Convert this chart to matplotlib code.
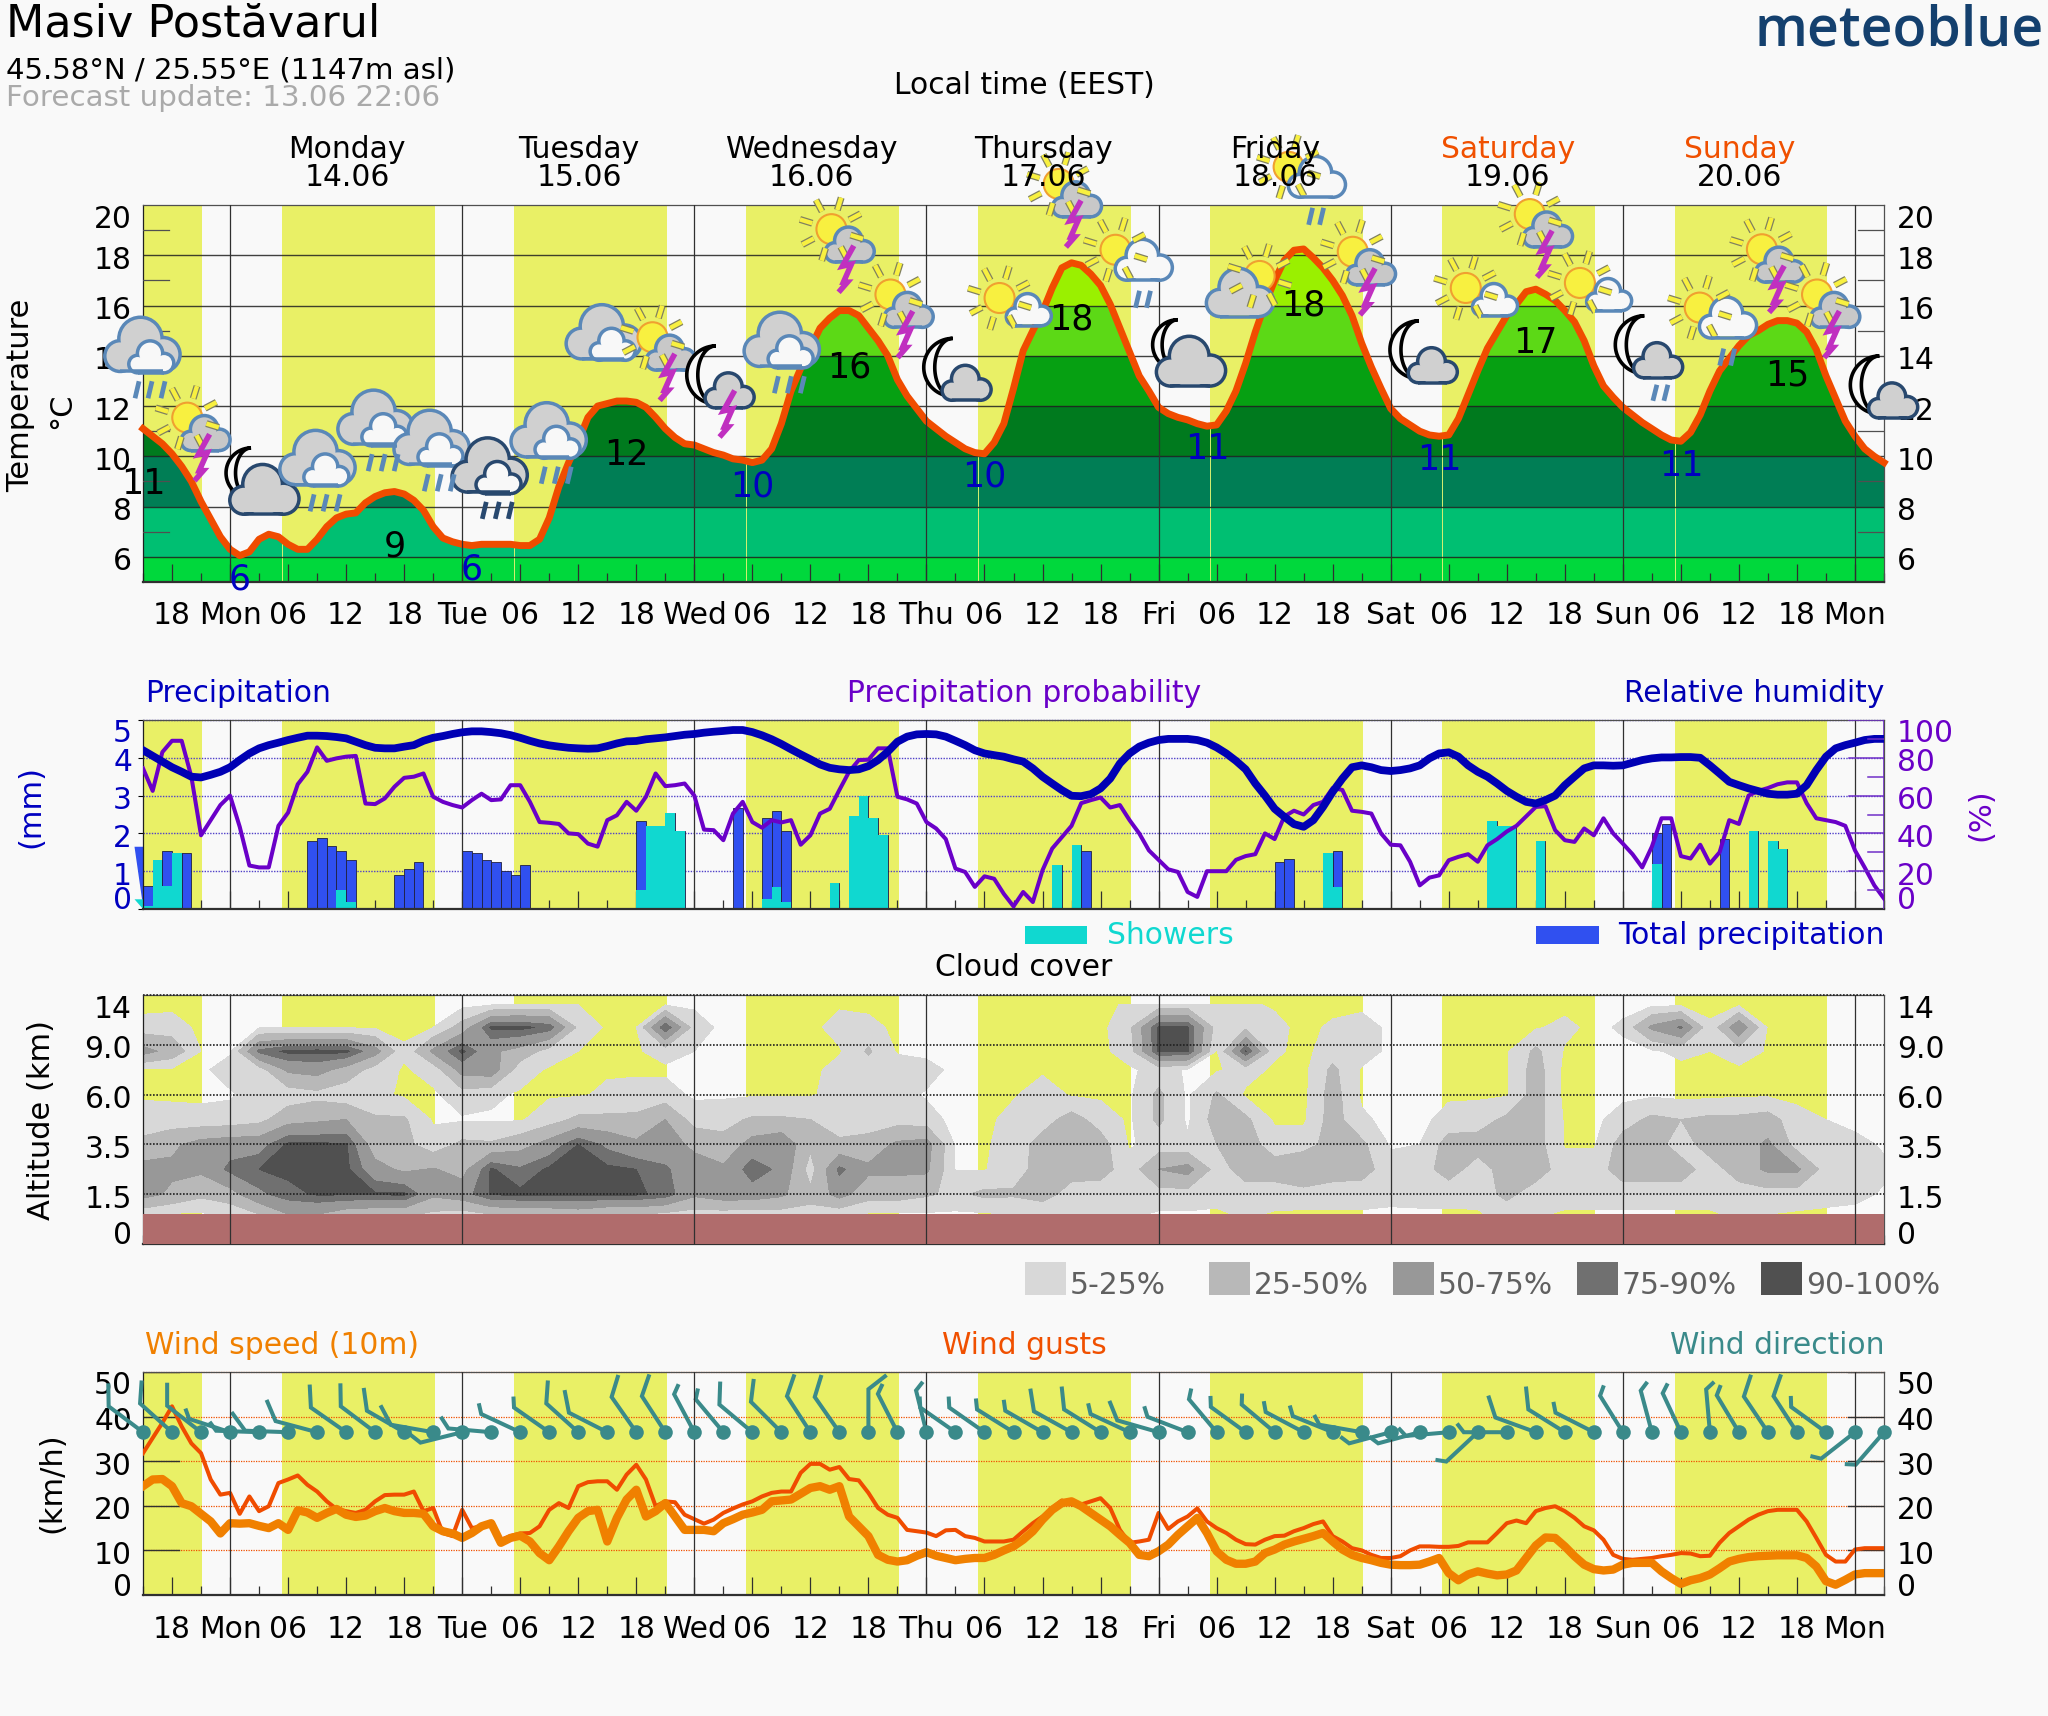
import numpy as np
import matplotlib
matplotlib.use("Agg")
import matplotlib.pyplot as plt
from matplotlib.patches import Circle, Rectangle, Polygon

plt.rcParams["font.family"] = ["DejaVu Sans"]

W, H = 2048, 1716
BG = "#f9f9f9"
YELLOW = "#e9f066"
TEXT_SIZE = 21.4

# hours counted from Monday 00:00
X0, X1 = -9, 171
hours = np.arange(X0, X1 + 1)
hours3 = np.arange(X0, X1 + 1, 3)

# -----------------------------------------------
# temperature
# -----------------------------------------------
temperature = [
    11.1, 10.8, 10.5, 10.1, 9.6, 9.0, 8.2, 7.5, 6.8,
    6.3, 6.05, 6.2, 6.7, 6.9, 6.8, 6.5, 6.3, 6.3, 6.7, 7.2, 7.55, 7.7, 7.75, 8.15, 8.4, 8.55, 8.6, 8.5, 8.25, 7.85, 7.2, 6.75, 6.6,
    6.5, 6.45, 6.5, 6.5, 6.5, 6.5, 6.45, 6.45, 6.7, 7.55, 8.8, 9.75, 10.6, 11.55, 12.0, 12.1, 12.2, 12.2, 12.15, 11.95, 11.55, 11.1, 10.75, 10.5,
    10.45, 10.3, 10.15, 10.05, 9.9, 9.85, 9.75, 9.85, 10.3, 11.3, 12.6, 13.5, 14.3, 15.1, 15.5, 15.8, 15.8, 15.6, 15.1, 14.6, 14.0, 13.05, 12.4, 11.9,
    11.4, 11.1, 10.8, 10.55, 10.3, 10.15, 10.1, 10.55, 11.3, 12.7, 14.2, 15.0, 15.75, 16.7, 17.5, 17.7, 17.6, 17.25, 16.8, 16.05, 15.1, 14.15, 13.2, 12.6,
    11.95, 11.7, 11.55, 11.45, 11.3, 11.2, 11.25, 11.8, 12.6, 13.7, 14.95, 16.05, 17.0, 17.8, 18.2, 18.25, 17.9, 17.5, 17.0, 16.4, 15.6, 14.5, 13.55, 12.7,
    11.9, 11.5, 11.25, 11.0, 10.85, 10.8, 10.85, 11.5, 12.45, 13.4, 14.3, 14.95, 15.6, 16.05, 16.55, 16.65, 16.45, 16.2, 15.8, 15.35, 14.6, 13.6, 12.8, 12.35,
    11.95, 11.65, 11.35, 11.1, 10.85, 10.65, 10.6, 10.95, 11.65, 12.6, 13.4, 13.9, 14.4, 14.8, 15.0, 15.25, 15.4, 15.4, 15.3, 14.95, 14.25, 13.2, 12.3, 11.4,
    10.8, 10.3, 10.0, 9.75,
]
temp_bands = [5, 6, 8, 10, 12, 14, 16, 18, 20]
temp_band_colors = ["#00d83c", "#00bf72", "#007e55", "#007a1e", "#06a012", "#5cd916", "#9af000", "#b4f800"]

label_hours = [-9, 1, 17, 25, 41, 54, 64, 78, 87, 101, 111, 125, 135, 150, 161]
label_temps = [8.9, 5.08, 6.4, 5.5, 10.05, 8.8, 13.55, 9.2, 15.45, 10.3, 16.0, 9.85, 14.5, 9.6, 13.2]
label_texts = ["11", "6", "9", "6", "12", "10", "16", "10", "18", "11", "18", "11", "17", "11", "15"]
label_is_min = [0, 1, 0, 1, 0, 1, 0, 1, 0, 1, 0, 1, 0, 1, 0]

icon_hours = [-9.1, -3.7, 3.1, 9, 15, 20.8, 26.8, 32.9, 38.6, 44.4, 50.9, 57, 62.9, 69, 75.4, 80.8,
              86.4, 93.2, 98.9, 105, 111.1, 116.8, 123.6, 129, 135.1, 140.8, 146.9, 153.6, 159.1, 164.8, 171.2]
icon_temps = [14.3, 11.3, 9.1, 9.8, 11.4, 10.6, 9.5, 10.9, 14.8, 14.5, 13.0, 14.5, 18.8, 16.2, 13.3, 16.1,
              20.6, 17.9, 14.2, 16.7, 21.2, 17.9, 14.0, 16.5, 19.4, 16.7, 14.2, 15.6, 18.0, 16.2, 12.6]
icon_kinds = ["A", "B", "C", "A", "A", "A", "D", "A", "L", "B", "F", "A", "B", "B", "G", "H",
              "B", "I", "C", "J", "I", "B", "G", "H", "B", "H", "K", "I", "B", "B", "G"]

# -----------------------------------------------
# precipitation (bars start at the given hour, one hour wide)
# -----------------------------------------------
rain_hours = [-9, -8, -7, -6, -5, 8, 9, 10, 11, 12, 17, 18, 19, 24, 25, 26, 27, 28, 29, 30,
              42, 43, 44, 45, 46, 52, 55, 56, 57, 62, 64, 65, 66, 67, 85, 87, 88,
              108, 109, 113, 114, 130, 131, 132, 135, 147, 148, 154, 157, 159, 160]
total_mm = [0.6, 1.3, 1.54, 1.47, 1.47, 1.8, 1.88, 1.67, 1.54, 1.3, 0.9, 1.07, 1.24, 1.54, 1.47, 1.3, 1.24, 1.0, 0.9, 1.17,
            2.33, 2.2, 2.2, 2.53, 2.07, 2.66, 2.41, 2.6, 2.07, 0.7, 2.46, 2.99, 2.41, 1.95, 1.17, 1.68, 1.53,
            1.25, 1.31, 1.47, 1.53, 2.33, 2.2, 2.2, 1.8, 2.02, 2.26, 1.86, 2.07, 1.8, 1.6]
showers_mm = [0.09, 1.3, 0.6, 1.47, 0, 0, 0, 0, 0.5, 0.19, 0, 0, 0, 0, 0, 0, 0, 0, 0, 0,
              0.5, 2.2, 2.2, 2.53, 2.07, 0, 0.27, 0.58, 0.19, 0.7, 2.46, 2.99, 2.41, 1.95, 1.17, 1.68, 0,
              0, 0, 1.47, 0.58, 2.33, 2.2, 2.2, 1.8, 1.18, 0, 0, 2.07, 1.8, 1.6]

precip_prob = [
    74.4, 62.5, 83, 89, 89, 70, 39, 47, 55,
    60, 43.5, 23, 22, 22, 44, 51, 66, 72.6, 85.5, 78.4, 79.7, 80.6, 81, 55.8, 55.5, 58.5, 64.7, 69.4, 70, 71.7, 59.4, 56.7, 55,
    53.7, 57.6, 61, 57.6, 58, 65.5, 65.5, 56.7, 46, 45.6, 45, 40, 39.6, 34.6, 33, 47, 49.6, 56.7, 52, 59.4, 71.7, 65, 65.5, 66.4,
    60, 42, 41.7, 36.4, 50.5, 56.7, 46, 43, 47, 45.8, 47, 34, 39, 50.5, 53, 63, 72.6, 78.8, 79, 85, 85, 59.4, 58, 55.8,
    46, 42.6, 37, 21.4, 19.6, 11.7, 17.3, 16, 8, 1.4, 9, 3.7, 20.5, 32, 38, 44, 56, 57.6, 59, 53.7, 55, 47, 40, 31,
    26, 21, 19.6, 9, 6.4, 20, 20, 20, 26, 28, 29, 40, 37, 49, 52, 50, 55, 56.7, 64, 63, 52, 51.4, 50.5, 40,
    34, 33.7, 25, 12.5, 16.6, 17.8, 25.8, 27.6, 29, 25, 33.7, 37, 41, 44, 49, 54, 54.4, 41.7, 36.4, 35.5, 42.6, 39, 48, 40,
    34.6, 29, 22, 33, 48, 48, 28, 26.7, 34, 24, 30, 47, 45, 60, 62.5, 64, 66, 67, 67, 56, 48, 47, 46, 44,
    31, 22, 12.5, 5.5,
]
humidity = [
    84, 81, 78, 75, 72.6, 70, 69.6, 71, 72.6,
    75, 78.8, 82.3, 85, 86.7, 88, 89.4, 90.6, 91.7, 91.7, 91.5, 91, 90.3, 88.5, 86.7, 85.3, 85, 85, 85.9, 86.7, 89, 90.6, 91.5, 92.6,
    93.5, 94, 94, 93.6, 93, 92, 90.6, 89, 87.6, 86.6, 85.9, 85.3, 85, 84.8, 85, 86.2, 87.6, 88.7, 88.9, 89.8, 90.3, 90.8, 91.5, 92.2,
    92.6, 93.3, 93.8, 94.2, 94.7, 94.7, 93.6, 91.9, 89.8, 87.3, 84.5, 81.8, 79.2, 76.5, 74.7, 73.9, 73.5, 73.9, 75.6, 78.8, 83.2, 88.5, 91.2, 92.4,
    92.6, 92.4, 91.2, 89, 86.7, 84, 82.3, 81.4, 80.6, 79.2, 78, 74.4, 70, 66.4, 62.9, 59.9, 59.7, 60.8, 63.8, 69, 77, 82.3, 85.9, 88,
    89.4, 90, 90, 90, 89.4, 88, 85.5, 82.3, 78.4, 73.9, 66.4, 60, 53, 48.8, 44.9, 43.5, 47, 54, 62, 69, 75, 76, 75, 73.5,
    73, 73.5, 74.4, 76, 79.7, 82.3, 82.9, 80.6, 76, 72.6, 70, 66.4, 62.5, 59.4, 56.7, 55.8, 57.6, 60, 65.5, 70, 74.4, 76, 76, 75.8,
    76, 77.4, 78.8, 79.7, 80.2, 80.2, 80.4, 80.4, 80, 76, 71.7, 67.3, 65.5, 63.8, 62.4, 61, 60.5, 60.5, 61, 65.5, 73.5, 80.6, 85, 86.7,
    88, 89.4, 90, 90,
]

# -----------------------------------------------
# cloud cover, one list per 3 hour column, rows from low to high altitude
# -----------------------------------------------
cloud_rows = [0.6, 1.0, 1.5, 2.0, 2.5, 3.0, 3.5, 3.87, 4.35, 4.8]
altitude_ticks = [0, 1, 2, 3, 4, 5]
altitude_labels = ["0", "1.5", "3.5", "6.0", "9.0", "14"]
cloud_cols = [
    [10, 60, 60, 30, 15, 2, 2, 60, 12, 0],
    [3, 45, 55, 45, 12, 2, 2, 40, 15, 0],
    [3, 30, 55, 60, 10, 2, 2, 5, 0, 0],
    [8, 40, 80, 65, 12, 3, 12, 3, 0, 0],
    [25, 70, 90, 65, 18, 12, 15, 80, 3, 0],
    [50, 85, 94, 93, 40, 12, 55, 94, 3, 0],
    [50, 92, 94, 93, 45, 18, 60, 95, 3, 0],
    [35, 92, 94, 92, 50, 10, 40, 94, 3, 0],
    [30, 92, 60, 35, 28, 10, 15, 60, 3, 0],
    [30, 93, 45, 32, 28, 2, 3, 8, 0, 0],
    [20, 55, 52, 12, 3, 2, 12, 55, 5, 0],
    [15, 65, 40, 30, 3, 15, 60, 94, 35, 0],
    [25, 92, 92, 28, 3, 8, 65, 55, 93, 5],
    [30, 94, 78, 40, 3, 3, 12, 40, 95, 8],
    [30, 94, 93, 60, 15, 3, 3, 15, 85, 10],
    [35, 94, 94, 90, 30, 3, 3, 5, 20, 5],
    [25, 94, 94, 70, 30, 8, 3, 3, 2, 0],
    [25, 93, 90, 55, 30, 12, 2, 3, 5, 2],
    [20, 85, 78, 60, 50, 12, 2, 12, 90, 5],
    [15, 55, 60, 45, 15, 2, 2, 5, 15, 2],
    [15, 65, 55, 32, 18, 2, 0, 0, 0, 0],
    [12, 65, 85, 60, 28, 3, 0, 0, 0, 0],
    [15, 55, 70, 70, 28, 3, 0, 0, 0, 0],
    [20, 30, 15, 30, 25, 3, 0, 0, 0, 0],
    [10, 60, 80, 30, 12, 12, 12, 3, 12, 3],
    [3, 35, 55, 35, 12, 15, 15, 28, 12, 0],
    [3, 35, 55, 55, 15, 12, 15, 3, 0, 0],
    [3, 28, 55, 60, 12, 3, 12, 0, 0, 0],
    [2, 20, 4, 3, 0, 0, 0, 0, 0, 0],
    [3, 30, 4, 3, 0, 0, 0, 0, 0, 0],
    [5, 28, 15, 12, 12, 3, 0, 0, 0, 0],
    [8, 35, 35, 35, 15, 15, 2, 0, 0, 0],
    [8, 15, 35, 35, 35, 3, 0, 0, 0, 0],
    [8, 12, 35, 35, 15, 2, 0, 0, 0, 0],
    [8, 15, 12, 3, 2, 2, 2, 15, 20, 8],
    [3, 15, 50, 12, 30, 30, 12, 92, 92, 12],
    [3, 15, 60, 8, 2, 2, 3, 92, 92, 12],
    [2, 12, 15, 25, 35, 28, 3, 3, 15, 8],
    [8, 15, 35, 35, 30, 2, 12, 92, 20, 8],
    [3, 15, 35, 15, 2, 2, 2, 8, 10, 3],
    [2, 15, 50, 15, 2, 0, 0, 0, 0, 0],
    [2, 15, 35, 35, 35, 35, 30, 15, 8, 0],
    [3, 12, 35, 30, 8, 2, 3, 15, 15, 0],
    [2, 10, 12, 3, 0, 0, 0, 0, 0, 0],
    [2, 12, 15, 5, 0, 0, 0, 0, 0, 0],
    [2, 12, 35, 35, 12, 2, 0, 0, 0, 0],
    [2, 15, 15, 35, 15, 2, 0, 0, 0, 0],
    [15, 30, 35, 35, 30, 3, 3, 3, 0, 0],
    [8, 15, 35, 35, 35, 35, 35, 30, 3, 0],
    [2, 15, 15, 3, 3, 0, 0, 3, 10, 0],
    [2, 15, 15, 3, 0, 0, 0, 0, 0, 0],
    [2, 15, 35, 35, 15, 0, 0, 0, 8, 0],
    [2, 15, 35, 35, 30, 2, 2, 2, 55, 2],
    [2, 15, 35, 15, 25, 0, 0, 10, 78, 2],
    [3, 12, 15, 35, 30, 0, 0, 5, 8, 0],
    [8, 15, 35, 35, 30, 2, 2, 15, 70, 3],
    [5, 15, 55, 55, 35, 2, 0, 3, 3, 0],
    [3, 15, 55, 15, 12, 0, 0, 0, 0, 0],
    [0, 15, 15, 15, 5, 0, 0, 0, 0, 0],
    [0, 10, 15, 10, 0, 0, 0, 0, 0, 0],
    [0, 3, 8, 3, 0, 0, 0, 0, 0, 0],
]
cloud_levels = [5, 25, 50, 75, 90, 101]
cloud_colors = ["#d8d8d8", "#b8b8b8", "#989898", "#707070", "#505050"]
cloud_legend = ["5-25%", "25-50%", "50-75%", "75-90%", "90-100%"]

# -----------------------------------------------
# wind
# -----------------------------------------------
wind_speed = [
    24.4, 25.9, 26, 24.4, 20.6, 19.9, 18.2, 16.5, 13.8,
    16.1, 16, 16.1, 15.5, 15, 16.1, 14.6, 19, 18.5, 17.3, 18.4, 19.3, 18, 17.5, 17.8, 18.8, 19.5, 18.8, 18.4, 18.4, 18.2, 15.4, 14.3, 13.8,
    12.8, 13.9, 15.4, 16.1, 11.7, 12.8, 13.3, 12, 9.4, 7.8, 10.9, 14.3, 17.3, 18.8, 19.1, 12, 17.3, 21.4, 23.6, 17.6, 18.8, 20.6, 17.6, 14.6,
    14.6, 14.6, 14.3, 16.1, 17, 18, 18.5, 19.1, 21, 21.2, 21.4, 22.7, 24, 24.4, 23.6, 24.4, 17.6, 15.4, 13.2, 9, 7.9, 7.5, 7.8, 8.8,
    9.6, 8.8, 8.3, 7.8, 8.1, 8.3, 8.3, 9, 10, 10.9, 12.4, 14.3, 16.9, 19.1, 20.6, 21, 19.9, 18.4, 16.9, 15.4, 13.5, 11.7, 9, 8.7,
    9.8, 11.3, 13.5, 15.4, 17.3, 13.9, 9.8, 7.9, 7, 7, 7.5, 9.4, 10.2, 11.3, 12, 12.6, 13.2, 13.9, 12, 10.2, 9, 8.3, 7.8, 7.2,
    6.8, 6.7, 6.7, 6.8, 7.5, 8.3, 4.9, 3.3, 4.6, 5.3, 4.8, 4.4, 4.6, 5.5, 8.3, 11.1, 12.9, 12.8, 10.9, 8.7, 6.8, 5.8, 5.5, 5.7,
    6.8, 7.2, 7.2, 7.2, 5.3, 3.8, 2.5, 3.3, 3.8, 4.6, 6, 7.5, 8.1, 8.5, 8.7, 8.8, 8.9, 8.9, 8.9, 8.3, 6.4, 3.1, 2.3, 3.4,
    4.6, 4.9, 4.9, 4.9,
]
wind_gusts = [
    31.8, 35.2, 38.6, 42.3, 37.8, 34, 31.8, 25.9, 22.5,
    22.9, 18.2, 22.1, 18.8, 19.9, 25.1, 25.9, 26.8, 24.7, 23.2, 21, 19.3, 18.8, 18.4, 19.1, 21, 22.4, 22.5, 22.5, 23.2, 18.8, 19.5, 13.9, 13.2,
    19.1, 15, 15.4, 15.8, 12.4, 13.2, 13.8, 13.9, 15.4, 19.1, 20.6, 19.5, 24.4, 25.3, 25.5, 25.5, 23.6, 27, 29.2, 25.9, 19.9, 21, 20.8, 18,
    17, 16, 16.9, 18.4, 19.4, 20.3, 21, 22.1, 22.9, 23.2, 23.2, 27.4, 29.4, 29.4, 28.1, 28.7, 26, 25.7, 22.9, 19.5, 18, 17.3, 14.6, 14.3,
    14, 13.2, 14.5, 14.6, 13.2, 12.8, 12, 12, 12, 12.4, 14.3, 16.1, 17.6, 19.5, 21.2, 20.3, 20.3, 21, 21.7, 19.5, 14.6, 11.7, 12, 12.4,
    18.4, 14.8, 16.5, 17.6, 19.4, 16.5, 15, 13.9, 12.4, 11.4, 11.3, 12.4, 13.2, 13.3, 14.3, 15, 15.9, 16.5, 13.2, 12, 10.5, 10, 9, 8.3,
    8.3, 8.7, 10, 10.9, 10.9, 10.8, 10.8, 11, 11.8, 11.8, 11.8, 13.9, 16.1, 16.7, 16.1, 18.8, 19.5, 19.9, 18.8, 17.3, 15.4, 14.5, 12.4, 9,
    8.1, 7.9, 8.1, 8.3, 8.7, 9, 9.4, 9.3, 8.7, 8.8, 11.7, 13.9, 15.4, 16.9, 18, 18.8, 19.1, 19.1, 19.1, 16.5, 12.8, 9, 7.5, 7.5,
    10.2, 10.5, 10.5, 10.5,
]
# direction of the shaft on the picture, degrees from up, and feather length in pixels
wind_dir = [-53, -48, -52, -72, -88, -88, -75, -55, -53, -60, -80, -104, -85, -65, -55, -48, -63, -35, -33, -28, -40,
            -50, -45, -33, -35, 0, -27, -14, -55, -55, -58, -60, -61, -58, -65, -74, -69, -40, -54, -50, -62, -68, -80,
            -105, -105, -95, -133, -90, -70, -58, -63, -32, -15, -25, -5, -31, -34, -33, -54, -128, -139]
wind_feather = [21, 21, 21, 9, 9, 21, 21, 21, 21, 21, 20, 20, 12, 9, 9, 21, 21, 21, 21, 9, 9,
                21, 21, 21, 21, 21, 9, 9, 9, 9, 9, 9, 21, 21, 9, 19, 9, 9, 9, 9, 9, 9, 9,
                9, 9, 9, 9, 9, 21, 21, 9, 9, 9, 9, 9, 9, 21, 21, 9, 9, 9]

day_names = ["Monday", "Tuesday", "Wednesday", "Thursday", "Friday", "Saturday", "Sunday"]
day_dates = ["14.06", "15.06", "16.06", "17.06", "18.06", "19.06", "20.06"]
day_colors = ["black", "black", "black", "black", "black", "#f05000", "#f05000"]
short_days = ["Mon", "Tue", "Wed", "Thu", "Fri", "Sat", "Sun", "Mon"]

SUNRISE, SUNSET = 5.35, 21.15

fig = plt.figure(figsize=(W / 100, H / 100), dpi=100, facecolor=BG)


def text_args(size, **kw):
    return dict(fontsize=size, family="DejaVu Sans", **kw)


def make_axes(top, bottom):
    ax = fig.add_axes([143 / W, 1 - bottom / H, (1884 - 143) / W, (bottom - top) / H], facecolor=BG)
    ax.set_xlim(X0, X1)
    ax.axvspan(X0, SUNSET - 24, color=YELLOW, lw=0, zorder=0)
    for d in range(7):
        ax.axvspan(SUNRISE + 24 * d, SUNSET + 24 * d, color=YELLOW, lw=0, zorder=0)
    for d in range(8):
        ax.axvline(24 * d, color="#303030", lw=0.9, zorder=6)
    ax.set_xticks(np.arange(-6, X1 + 1, 6))
    ax.set_xticks(hours3, minor=True)
    ax.tick_params(axis="x", which="major", direction="in", length=13, width=0.9, color="#303030", labelbottom=False)
    ax.tick_params(axis="x", which="minor", direction="in", length=6.5, width=0.9, color="#303030")
    ax.tick_params(axis="y", left=False, labelleft=False)
    for s in ax.spines.values():
        s.set_linewidth(0.9)
        s.set_color("#505050")
    ax.spines["bottom"].set_linewidth(1.6)
    ax.spines["bottom"].set_color("#303030")
    ax.spines["left"].set_color("#202020")
    return ax


def y_labels(ax, vals, labels, side, color="black", shift=None):
    # labels sit a little below their tick, the end ones are pushed inwards
    shift = shift or {}
    for v, lab in zip(vals, labels):
        dy = shift.get(lab, -5)
        if side == "left":
            ax.annotate(lab, xy=(0, v), xycoords=("axes fraction", "data"), xytext=(-11, dy), textcoords="offset pixels",
                        ha="right", va="center", color=color, annotation_clip=False, **text_args(TEXT_SIZE))
        else:
            ax.annotate(lab, xy=(1, v), xycoords=("axes fraction", "data"), xytext=(13, dy), textcoords="offset pixels",
                        ha="left", va="center", color=color, annotation_clip=False, **text_args(TEXT_SIZE))


def x_labels(ax):
    for h in np.arange(-6, X1 + 1, 6):
        if h % 24 == 0:
            lab = short_days[h // 24]
        else:
            lab = "%02d" % (h % 24)
        ax.annotate(lab, xy=(h, 0), xycoords=("data", "axes fraction"), xytext=(0, -34), textcoords="offset pixels",
                    ha="center", va="center", annotation_clip=False, **text_args(TEXT_SIZE))


# -----------------------------------------------
# panel 1: temperature
# -----------------------------------------------
ax1 = make_axes(205, 582)
ax1.set_ylim(5, 20)
area = ax1.fill_between(hours, 5, temperature, color="none", lw=0)
clip = area.get_paths()[0]
for lo, hi, col in zip(temp_bands[:-1], temp_bands[1:], temp_band_colors):
    band = ax1.axhspan(lo, hi, color=col, lw=0, zorder=1)
    band.set_clip_path(clip, transform=ax1.transData)
for d in range(7):
    t = temperature[int(SUNRISE) + 24 * d + 9]
    ax1.plot([SUNRISE + 24 * d] * 2, [5, t], color="#d8f070", lw=0.7, zorder=2)
for v in range(6, 20, 2):
    ax1.axhline(v, color="#202020", lw=1.0, alpha=0.85, zorder=3)
ax1.plot(hours, temperature, color="#f04c00", lw=5.0, zorder=5, solid_joinstyle="round", clip_on=False)
for v in [7, 9, 11, 15, 17, 19]:
    ax1.plot([X0, X0 + 2.7], [v, v], color="#505050", lw=0.9, zorder=4)
    ax1.plot([X1 - 2.7, X1], [v, v], color="#505050", lw=0.9, zorder=4)
temp_ticks = [6, 8, 10, 12, 14, 16, 18, 20]
temp_tick_labels = [str(v) for v in temp_ticks]
y_labels(ax1, temp_ticks, temp_tick_labels, "left", shift={"20": -14})
y_labels(ax1, temp_ticks, temp_tick_labels, "right", shift={"20": -14})
x_labels(ax1)
for h, t, s, is_min in zip(label_hours, label_temps, label_texts, label_is_min):
    ax1.text(h, t, s, color="#0000c0" if is_min else "black", ha="center", va="center", zorder=7, clip_on=False, **text_args(25))

# -----------------------------------------------
# panel 2: precipitation
# -----------------------------------------------
ax2 = make_axes(720, 909)
ax2.set_ylim(0, 5)
for v in [1, 2, 3, 4, 5]:
    ax2.axhline(v, color="#5040c8", lw=1.0, ls=(0, (1, 1)), zorder=1, clip_on=False)
ax2.bar(rain_hours, total_mm, width=1, align="edge", color="#3050f0", edgecolor="#202040", linewidth=0.6, zorder=2)
ax2.bar(rain_hours, showers_mm, width=1, align="edge", color="#10d8d0", lw=0, zorder=2.5)
ax2.fill_between([-9.93, -9], [1.66, 1.66], [1.66, 0], color="#3050f0", lw=0, clip_on=False, zorder=2)
ax2.fill_between([-9.93, -9], [0.27, 0.27], [0.27, 0], color="#10d8d0", lw=0, clip_on=False, zorder=2)
ax2b = ax2.twinx()
ax2b.set_ylim(0, 100)
ax2b.tick_params(axis="y", right=False, labelright=False)
for s in ax2b.spines.values():
    s.set_visible(False)
ax2b.plot(hours, precip_prob, color="#6a00c8", lw=2.9, zorder=4)
ax2b.plot(hours, humidity, color="#0000b4", lw=5.6, zorder=5)
for v in [20, 40, 60, 80, 100]:
    ax2b.plot([X1 - 3.6, X1], [v, v], color="#7030c8", lw=1.1, zorder=6)
for v in [10, 30, 50, 70, 90]:
    ax2b.plot([X1 - 1.7, X1], [v, v], color="#7030c8", lw=1.1, zorder=6)
ax2b.axvline(X1, color="#7030c8", lw=1.2)
y_labels(ax2, [0, 1, 2, 3, 4, 5], ["0", "1", "2", "3", "4", "5"], "left", color="#0000c0", shift={"0": 8, "5": -14})
y_labels(ax2b, [0, 20, 40, 60, 80, 100], ["0", "20", "40", "60", "80", "100"], "right", color="#6a00c8",
         shift={"0": 8, "100": -14})

# -----------------------------------------------
# panel 3: cloud cover
# -----------------------------------------------
ax3 = make_axes(995, 1244)
ax3.set_ylim(0, 5)
cloud = np.array(cloud_cols, dtype=float).T
ax3.contourf(hours3, cloud_rows, cloud, levels=cloud_levels, colors=cloud_colors, zorder=2)
ax3.axhspan(0, 0.6, color="#b06c6c", lw=0, zorder=3)
for v in [1, 2, 3, 4, 5]:
    ax3.axhline(v, color="#202020", lw=1.2, ls=(0, (1, 1)), zorder=5, clip_on=False)
y_labels(ax3, altitude_ticks, altitude_labels, "left", shift={"0": 8, "14": -14})
y_labels(ax3, altitude_ticks, altitude_labels, "right", shift={"0": 8, "14": -14})

# -----------------------------------------------
# panel 4: wind
# -----------------------------------------------
ax4 = make_axes(1372, 1595)
ax4.set_ylim(0, 50)
for v in [10, 20, 30, 40, 50]:
    ax4.axhline(v, color="#f05000", lw=0.9, ls=(0, (1, 1)), zorder=1, clip_on=False)
    ax4.plot([X0, X0 + 3.7], [v, v], color="#303030", lw=1.0, zorder=2)
    ax4.plot([X1 - 3.7, X1], [v, v], color="#303030", lw=1.0, zorder=2)
ax4.plot(hours, wind_gusts, color="#f04c00", lw=2.9, zorder=3)
ax4.plot(hours, wind_speed, color="#f08000", lw=6.0, zorder=4)

WIND_Y = 36.5
px_x = (X1 - X0) / (1884 - 143)
px_y = 50 / (1595 - 1372)
TEAL = "#3a8a8a"
for h, a, fl in zip(hours3, wind_dir, wind_feather):
    ra = np.deg2rad(a)
    rb = np.deg2rad(a + 52)
    x1 = h + 43 * np.sin(ra) * px_x
    y1 = WIND_Y + 43 * np.cos(ra) * px_y
    x2 = x1 + fl * np.sin(rb) * px_x
    y2 = y1 + fl * np.cos(rb) * px_y
    ax4.plot([h, x1, x2], [WIND_Y, y1, y2], color=TEAL, lw=2.9, zorder=5, clip_on=False, solid_joinstyle="miter")
ax4.plot(hours3, [WIND_Y] * len(hours3), "o", color=TEAL, ms=10.5, mew=0, zorder=6, clip_on=False)
wind_ticks = [0, 10, 20, 30, 40, 50]
wind_tick_labels = [str(v) for v in wind_ticks]
y_labels(ax4, wind_ticks, wind_tick_labels, "left", shift={"0": 8, "50": -14})
y_labels(ax4, wind_ticks, wind_tick_labels, "right", shift={"0": 8, "50": -14})
x_labels(ax4)

# -----------------------------------------------
# texts, legends and weather icons in picture pixels
# -----------------------------------------------
ov = fig.add_axes([0, 0, 1, 1], zorder=10)
ov.set_xlim(0, W)
ov.set_ylim(H, 0)
ov.axis("off")
ov.patch.set_alpha(0)


def label(x, y, s, size=TEXT_SIZE, color="black", ha="left", **kw):
    ov.text(x, y, s, color=color, ha=ha, va="center", **text_args(size), **kw)


def wide(x, y, s, color="black", size=22):
    ov.text(x, y, s, color=color, ha="center", va="center", rotation=90, fontsize=size, family="DejaVu Sans")


label(6, 24, "Masiv Postăvarul", size=32)
label(6, 70, "45.58°N / 25.55°E (1147m asl)", size=21)
label(6, 98, "Forecast update: 13.06 22:06", size=21.2, color="#aaaaaa")
ov.text(2044, 32, "meteoblue", color="#14406e", ha="right", va="center", fontsize=40, family="Open Sans", weight="semibold")
label(1024, 86, "Local time (EEST)", ha="center")
for d, (name, date, col) in enumerate(zip(day_names, day_dates, day_colors)):
    x = 231 + (12 + 24 * d) * 9.672
    label(x, 150, name, color=col, ha="center")
    label(x, 178, date, ha="center")
wide(21, 395, "Temperature")
wide(62, 411, "°C")
label(145, 694, "Precipitation", color="#0000c0")
label(1024, 694, "Precipitation probability", color="#6a00c8", ha="center")
label(1884, 694, "Relative humidity", color="#0000b4", ha="right")
wide(31, 806, "(mm)", color="#0000c0")
wide(1981, 815, "(%)", color="#6a00c8")
ov.add_patch(Rectangle((1025, 926), 62, 18, color="#10d8d0", lw=0))
label(1107, 935, "Showers", color="#10d8d0")
ov.add_patch(Rectangle((1536, 926), 63, 18, color="#3050f0", lw=0))
label(1618, 935, "Total precipitation", color="#0000c0")
label(1024, 968, "Cloud cover", ha="center")
wide(42, 1120, "Altitude (km)")
for x0, col, s in zip([1025, 1209, 1393, 1577, 1761], cloud_colors, cloud_legend):
    ov.add_patch(Rectangle((x0, 1262), 41, 33, color=col, lw=0))
    label(x0 + 45, 1286, s, color="#606060")
label(145, 1346, "Wind speed (10m)", color="#f08000")
label(1024, 1346, "Wind gusts", color="#f05000", ha="center")
label(1884, 1346, "Wind direction", color=TEAL, ha="right")
wide(52, 1483, "(km/h)")

BLUE_EDGE = "#5a88b8"
DARK_EDGE = "#28486e"


def cloud_icon(cx, cy, w, fill, edge, lw=3.5):
    lobes = [(-0.28, 0.10, 0.22), (-0.02, -0.12, 0.30), (0.27, 0.08, 0.24)]
    for dx, dy, r in lobes:
        ov.add_patch(Circle((cx + dx * w, cy + dy * w), r * w, fc=edge, lw=0))
    for dx, dy, r in lobes:
        ov.add_patch(Circle((cx + dx * w, cy + dy * w), r * w - lw, fc=fill, lw=0))
    ov.add_patch(Rectangle((cx - 0.28 * w, cy + 0.02 * w), 0.55 * w, 0.24 * w - lw + 0.06 * w, fc=fill, lw=0))
    ov.plot([cx - 0.28 * w, cx + 0.27 * w], [cy + 0.32 * w - lw / 2] * 2, color=edge, lw=lw * 0.72, solid_capstyle="butt")


def sun_icon(cx, cy, r=15):
    for k in range(8):
        a = k * np.pi / 4 + 0.3
        xs = [cx + (r + 5) * np.cos(a), cx + (r + 18) * np.cos(a)]
        ys = [cy + (r + 5) * np.sin(a), cy + (r + 18) * np.sin(a)]
        ov.plot(xs, ys, color="#808060", lw=5.0, solid_capstyle="butt")
        ov.plot(xs, ys, color="#f8f040", lw=3.2, solid_capstyle="butt")
    ov.add_patch(Circle((cx, cy), r, fc="#f8f040", ec="#f0a030", lw=1.5))


def moon_icon(cx, cy, h):
    # crescent between two half ellipses, tips at top and bottom
    t = np.linspace(np.pi / 2, 3 * np.pi / 2, 40)
    r = h / 2
    rx = 0.5 * h
    outer = np.c_[cx + 0.3 * h + rx * np.cos(t), cy - r * np.sin(t)]
    inner = np.c_[cx + 0.3 * h + rx * 0.62 * np.cos(t[::-1]), cy - r * np.sin(t[::-1])]
    ov.add_patch(Polygon(np.r_[outer, inner], closed=True, fc="#f9f9f9", ec="black", lw=2.6))


def rain_icon(xs, y0, y1, color=BLUE_EDGE):
    for x in xs:
        ov.plot([x + 2, x - 2], [y0, y1], color=color, lw=3.4, solid_capstyle="butt")


def bolt_icon(cx, cy, s=1.0):
    pts = np.array([(4, -16), (-6, 2), (3, 0), (-5, 18), (-1, 18), (-8, 26)])
    ov.plot(cx + pts[:, 0] * s, cy + pts[:, 1] * s, color="#c030c0", lw=4.0, solid_joinstyle="miter")


def draw_icon(kind, cx, cy):
    if kind in "ALD":
        edge = DARK_EDGE if kind == "D" else BLUE_EDGE
        cloud_icon(cx, cy, 78, "#d0d0d0", edge)
        cloud_icon(cx + 9, cy + 11, 48, "#f8f8f8", edge)
        if kind != "L":
            rain_icon([cx - 5, cx + 8, cx + 21], cy + 33, cy + 50, edge)
    elif kind == "B":
        sun_icon(cx - 7, cy - 6)
        cloud_icon(cx + 11, cy + 12, 52, "#c8c8c8", BLUE_EDGE)
        bolt_icon(cx + 10, cy + 29)
    elif kind in "CGFK":
        big = kind == "C"
        moon_icon(cx - 24, cy - 6, 50 if big else 58)
        w = 72 if big else 52
        cloud_icon(cx + (4 if big else 7), cy + (14 if big else 12), w, "#d0d0d0", DARK_EDGE)
        if kind == "F":
            bolt_icon(cx + 7, cy + 28)
        if kind == "K":
            rain_icon([cx + 4, cx + 15], cy + 34, cy + 50, BLUE_EDGE)
    elif kind == "H":
        sun_icon(cx - 12, cy - 5)
        cloud_icon(cx + 17, cy + 9, 48, "#f8f8f8", BLUE_EDGE)
    elif kind == "I":
        sun_icon(cx - 16, cy - 8)
        cloud_icon(cx + 12, cy + 5, 60, "#f8f8f8", BLUE_EDGE)
        rain_icon([cx + 6, cx + 17], cy + 33, cy + 50)
    elif kind == "J":
        sun_icon(cx + 14, cy - 12)
        cloud_icon(cx - 6, cy + 8, 70, "#d0d0d0", BLUE_EDGE)


fig.canvas.draw()
for h, t, kind in zip(icon_hours, icon_temps, icon_kinds):
    px, py = ax1.transData.transform((h, t))
    draw_icon(kind, px, H - py)

fig.savefig("out.png", dpi=100, facecolor=BG)
